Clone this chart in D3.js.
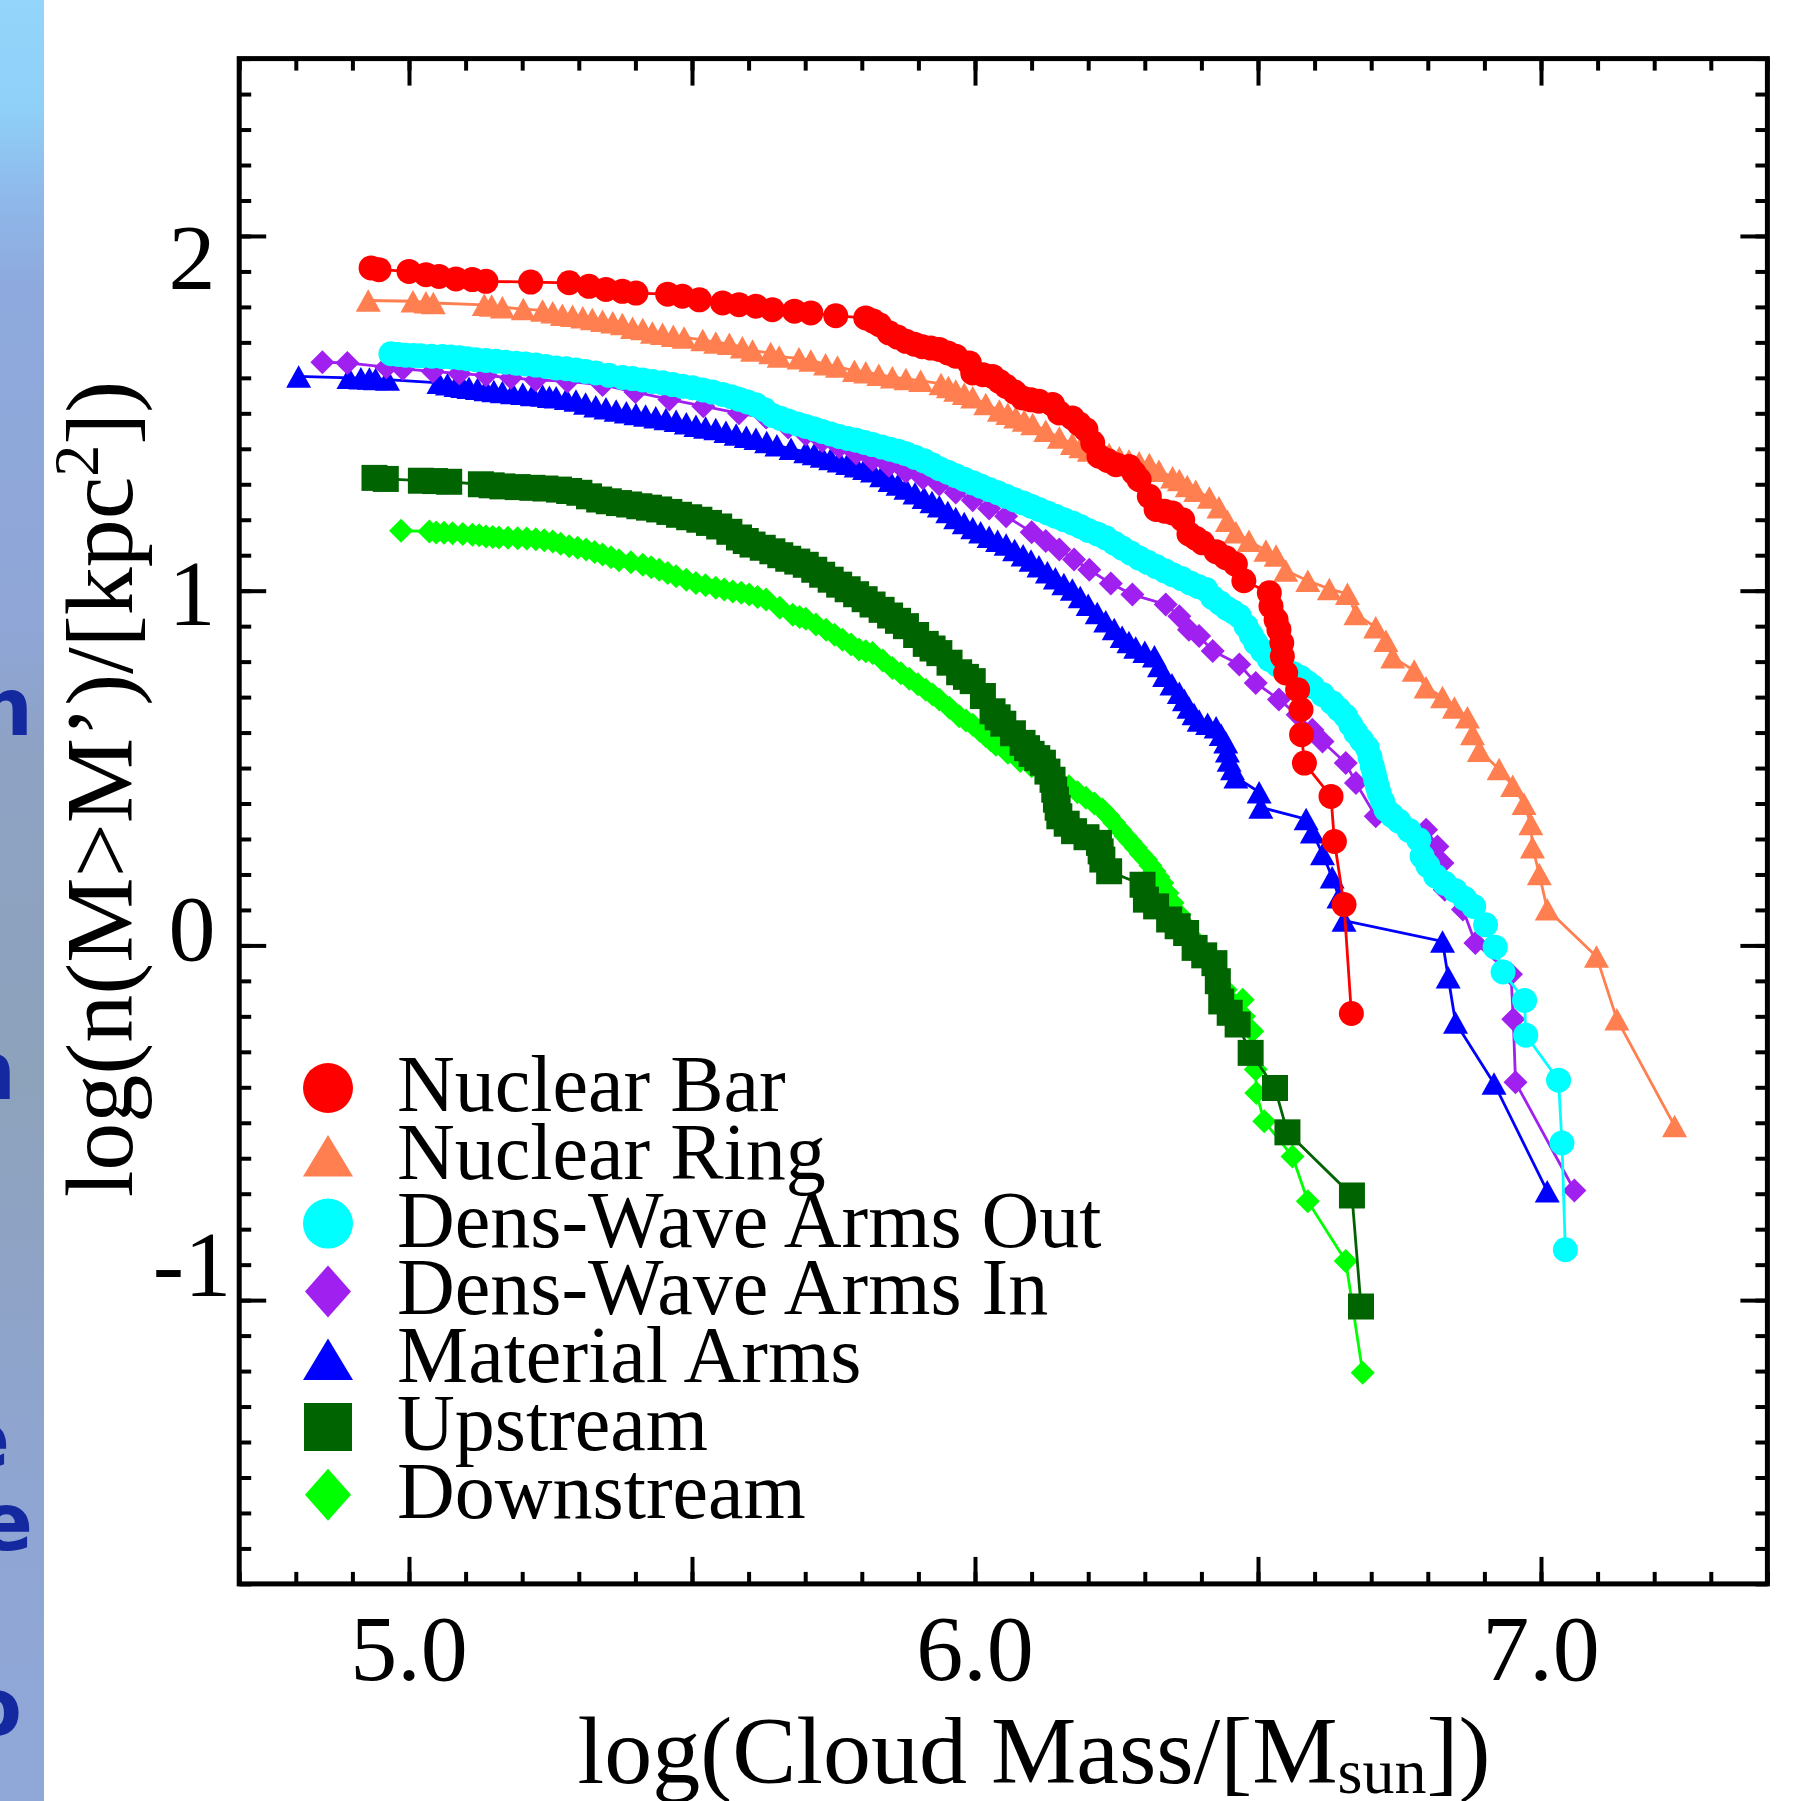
<!DOCTYPE html>
<html>
<head>
<meta charset="utf-8">
<script src="https://cdn.jsdelivr.net/npm/d3@7"></script>
<style>
  html, body { margin: 0; padding: 0; background: #fff; }
  svg { display: block; }
  text.serif { font-family: "Liberation Serif", "Times New Roman", serif; fill: #000; }
  text.strip { font-family: "DejaVu Sans", Verdana, sans-serif; font-weight: bold; fill: #1429a0; }
</style>
</head>
<body>
<svg id="chart" width="1806" height="1801"></svg>
<script>
// cumulative mass spectra, [log M, log n(>M)/kpc^2]
const nuclearBar = [[4.933,1.910],[4.947,1.905],[5.000,1.900],[5.030,1.891],[5.053,1.886],[5.083,1.879],[5.112,1.877],[5.136,1.872],[5.215,1.870],[5.283,1.868],[5.318,1.858],[5.348,1.849],[5.377,1.844],[5.401,1.839],[5.457,1.836],[5.483,1.830],[5.513,1.820],[5.554,1.811],[5.583,1.806],[5.613,1.802],[5.642,1.792],[5.681,1.788],[5.710,1.783],[5.754,1.775],[5.807,1.769],[5.820,1.760],[5.831,1.750],[5.848,1.727],[5.863,1.715],[5.878,1.703],[5.893,1.695],[5.907,1.688],[5.922,1.684],[5.937,1.680],[5.952,1.670],[5.966,1.661],[5.990,1.642],[5.996,1.614],[6.014,1.609],[6.031,1.604],[6.043,1.590],[6.055,1.576],[6.070,1.560],[6.084,1.543],[6.099,1.538],[6.113,1.534],[6.137,1.525],[6.149,1.501],[6.172,1.487],[6.184,1.470],[6.196,1.454],[6.208,1.417],[6.219,1.379],[6.234,1.367],[6.249,1.355],[6.272,1.350],[6.281,1.332],[6.290,1.313],[6.308,1.266],[6.320,1.229],[6.335,1.224],[6.349,1.219],[6.367,1.200],[6.378,1.160],[6.390,1.148],[6.402,1.135],[6.426,1.110],[6.443,1.093],[6.460,1.075],[6.475,1.028],[6.520,0.994],[6.523,0.956],[6.532,0.918],[6.537,0.890],[6.542,0.853],[6.543,0.815],[6.549,0.768],[6.570,0.721],[6.576,0.665],[6.577,0.594],[6.582,0.514],[6.629,0.420],[6.635,0.293],[6.652,0.115],[6.665,-0.192]];
const nuclearRing = [[4.928,1.818],[5.007,1.816],[5.030,1.813],[5.043,1.811],[5.133,1.806],[5.146,1.804],[5.165,1.799],[5.202,1.794],[5.236,1.790],[5.254,1.785],[5.271,1.778],[5.289,1.775],[5.307,1.771],[5.324,1.766],[5.342,1.761],[5.360,1.757],[5.377,1.752],[5.395,1.741],[5.413,1.738],[5.430,1.728],[5.448,1.724],[5.467,1.719],[5.486,1.714],[5.519,1.707],[5.542,1.700],[5.566,1.696],[5.589,1.686],[5.607,1.677],[5.639,1.670],[5.654,1.660],[5.689,1.655],[5.710,1.649],[5.736,1.638],[5.757,1.632],[5.787,1.620],[5.807,1.616],[5.830,1.609],[5.854,1.602],[5.878,1.597],[5.904,1.592],[5.940,1.583],[5.953,1.574],[5.966,1.564],[5.981,1.555],[5.996,1.545],[6.019,1.526],[6.043,1.508],[6.058,1.499],[6.072,1.489],[6.087,1.480],[6.102,1.470],[6.125,1.451],[6.149,1.432],[6.172,1.414],[6.187,1.405],[6.202,1.395],[6.220,1.390],[6.237,1.385],[6.255,1.376],[6.272,1.367],[6.290,1.362],[6.308,1.357],[6.325,1.338],[6.349,1.320],[6.361,1.312],[6.375,1.295],[6.390,1.282],[6.414,1.263],[6.431,1.235],[6.446,1.197],[6.461,1.165],[6.484,1.141],[6.514,1.113],[6.532,1.099],[6.549,1.057],[6.588,1.028],[6.626,1.005],[6.658,0.991],[6.673,0.934],[6.708,0.897],[6.726,0.859],[6.738,0.812],[6.776,0.775],[6.797,0.728],[6.826,0.700],[6.847,0.671],[6.870,0.643],[6.879,0.596],[6.891,0.549],[6.926,0.497],[6.950,0.450],[6.970,0.399],[6.982,0.342],[6.985,0.277],[6.997,0.201],[7.011,0.102],[7.098,-0.031],[7.134,-0.208],[7.236,-0.509]];
const densWaveOut = [[4.968,1.668],[4.981,1.666],[4.994,1.664],[5.008,1.663],[5.021,1.662],[5.040,1.661],[5.059,1.660],[5.074,1.659],[5.089,1.657],[5.103,1.654],[5.118,1.651],[5.136,1.649],[5.154,1.647],[5.171,1.644],[5.189,1.641],[5.206,1.639],[5.224,1.636],[5.242,1.632],[5.260,1.628],[5.278,1.626],[5.295,1.622],[5.312,1.618],[5.330,1.614],[5.353,1.607],[5.377,1.601],[5.395,1.598],[5.413,1.594],[5.430,1.590],[5.448,1.586],[5.466,1.581],[5.483,1.576],[5.501,1.572],[5.519,1.566],[5.536,1.560],[5.554,1.553],[5.569,1.547],[5.583,1.540],[5.598,1.532],[5.613,1.524],[5.628,1.510],[5.642,1.494],[5.656,1.486],[5.670,1.478],[5.686,1.470],[5.701,1.463],[5.716,1.456],[5.730,1.449],[5.745,1.442],[5.760,1.435],[5.775,1.429],[5.790,1.424],[5.805,1.418],[5.819,1.412],[5.835,1.405],[5.850,1.399],[5.864,1.393],[5.878,1.386],[5.894,1.376],[5.910,1.366],[5.924,1.355],[5.937,1.344],[5.952,1.334],[5.966,1.324],[5.981,1.314],[5.996,1.304],[6.010,1.295],[6.025,1.285],[6.040,1.276],[6.055,1.266],[6.070,1.256],[6.085,1.247],[6.099,1.238],[6.113,1.229],[6.128,1.219],[6.142,1.210],[6.157,1.200],[6.172,1.191],[6.186,1.181],[6.200,1.170],[6.216,1.160],[6.231,1.149],[6.246,1.134],[6.260,1.120],[6.275,1.106],[6.290,1.092],[6.305,1.080],[6.320,1.068],[6.335,1.056],[6.349,1.045],[6.365,1.034],[6.380,1.022],[6.394,1.012],[6.408,1.003],[6.420,0.980],[6.433,0.965],[6.445,0.950],[6.456,0.940],[6.467,0.928],[6.479,0.900],[6.488,0.875],[6.496,0.853],[6.508,0.830],[6.520,0.806],[6.535,0.790],[6.549,0.777],[6.562,0.766],[6.575,0.755],[6.586,0.742],[6.596,0.730],[6.614,0.707],[6.631,0.684],[6.643,0.665],[6.655,0.646],[6.664,0.622],[6.673,0.599],[6.683,0.578],[6.693,0.557],[6.698,0.530],[6.702,0.505],[6.705,0.486],[6.708,0.467],[6.711,0.448],[6.714,0.430],[6.720,0.406],[6.726,0.383],[6.737,0.366],[6.749,0.350],[6.767,0.324],[6.784,0.298],[6.790,0.251],[6.800,0.225],[6.814,0.195],[6.830,0.175],[6.848,0.155],[6.865,0.132],[6.881,0.110],[6.902,0.058],[6.919,-0.005],[6.933,-0.075],[6.971,-0.155],[6.973,-0.253],[7.031,-0.380],[7.037,-0.557],[7.043,-0.858]];
const densWaveIn = [[4.847,1.644],[4.891,1.642],[4.960,1.630],[4.989,1.625],[5.042,1.618],[5.089,1.612],[5.136,1.607],[5.180,1.600],[5.224,1.594],[5.280,1.590],[5.342,1.580],[5.400,1.560],[5.460,1.539],[5.520,1.520],[5.583,1.500],[5.631,1.488],[5.670,1.460],[5.701,1.440],[5.730,1.422],[5.760,1.405],[5.790,1.387],[5.819,1.369],[5.848,1.352],[5.878,1.335],[5.908,1.317],[5.937,1.299],[5.966,1.277],[5.996,1.255],[6.025,1.232],[6.055,1.210],[6.100,1.165],[6.125,1.140],[6.149,1.116],[6.175,1.088],[6.202,1.059],[6.240,1.020],[6.278,0.989],[6.337,0.961],[6.361,0.928],[6.378,0.890],[6.396,0.872],[6.420,0.830],[6.467,0.792],[6.496,0.740],[6.537,0.693],[6.570,0.650],[6.596,0.608],[6.614,0.575],[6.655,0.514],[6.673,0.458],[6.708,0.364],[6.797,0.326],[6.817,0.279],[6.826,0.232],[6.830,0.157],[6.862,0.101],[6.884,0.007],[6.947,-0.081],[6.951,-0.208],[6.955,-0.386],[7.059,-0.691]];
const materialArms = [[4.805,1.604],[4.894,1.600],[4.915,1.599],[4.930,1.598],[4.941,1.597],[4.962,1.595],[5.053,1.586],[5.068,1.582],[5.083,1.578],[5.095,1.575],[5.106,1.572],[5.121,1.569],[5.136,1.566],[5.150,1.563],[5.165,1.560],[5.183,1.557],[5.201,1.555],[5.218,1.552],[5.236,1.550],[5.248,1.547],[5.260,1.545],[5.278,1.541],[5.295,1.536],[5.312,1.528],[5.330,1.520],[5.348,1.514],[5.366,1.508],[5.384,1.503],[5.401,1.498],[5.418,1.494],[5.436,1.489],[5.454,1.484],[5.472,1.479],[5.490,1.472],[5.507,1.465],[5.524,1.460],[5.542,1.456],[5.560,1.448],[5.578,1.440],[5.596,1.434],[5.613,1.428],[5.632,1.419],[5.650,1.410],[5.675,1.400],[5.701,1.391],[5.716,1.385],[5.730,1.378],[5.745,1.371],[5.760,1.365],[5.775,1.358],[5.790,1.351],[5.805,1.344],[5.819,1.337],[5.835,1.323],[5.850,1.310],[5.864,1.299],[5.878,1.288],[5.894,1.275],[5.910,1.262],[5.924,1.250],[5.937,1.238],[5.952,1.222],[5.966,1.205],[5.981,1.191],[5.996,1.177],[6.010,1.165],[6.025,1.152],[6.040,1.141],[6.055,1.130],[6.070,1.115],[6.085,1.100],[6.099,1.085],[6.113,1.069],[6.128,1.052],[6.142,1.035],[6.157,1.019],[6.172,1.003],[6.186,0.982],[6.200,0.960],[6.216,0.937],[6.231,0.914],[6.246,0.892],[6.260,0.870],[6.272,0.855],[6.284,0.840],[6.300,0.828],[6.317,0.815],[6.326,0.788],[6.335,0.760],[6.348,0.736],[6.361,0.712],[6.370,0.692],[6.378,0.671],[6.387,0.652],[6.396,0.634],[6.411,0.625],[6.426,0.615],[6.435,0.594],[6.443,0.573],[6.446,0.547],[6.449,0.521],[6.455,0.497],[6.461,0.474],[6.502,0.432],[6.505,0.389],[6.585,0.356],[6.596,0.319],[6.614,0.258],[6.631,0.192],[6.643,0.136],[6.652,0.070],[6.826,0.011],[6.836,-0.090],[6.849,-0.217],[6.917,-0.389],[7.011,-0.693]];
const upstream = [[4.939,1.318],[4.959,1.315],[5.021,1.310],[5.046,1.309],[5.071,1.307],[5.127,1.300],[5.146,1.297],[5.165,1.294],[5.192,1.292],[5.218,1.290],[5.241,1.288],[5.265,1.285],[5.283,1.281],[5.301,1.276],[5.318,1.266],[5.336,1.257],[5.353,1.252],[5.371,1.247],[5.389,1.243],[5.407,1.238],[5.424,1.234],[5.442,1.229],[5.460,1.222],[5.477,1.214],[5.495,1.207],[5.513,1.200],[5.530,1.191],[5.548,1.181],[5.566,1.166],[5.583,1.150],[5.595,1.140],[5.607,1.130],[5.625,1.121],[5.642,1.111],[5.656,1.100],[5.670,1.090],[5.686,1.082],[5.701,1.073],[5.716,1.059],[5.730,1.045],[5.745,1.031],[5.760,1.017],[5.775,1.004],[5.790,0.990],[5.805,0.976],[5.819,0.961],[5.835,0.946],[5.850,0.930],[5.864,0.915],[5.878,0.900],[5.896,0.875],[5.913,0.850],[5.925,0.837],[5.937,0.824],[5.955,0.797],[5.972,0.770],[5.984,0.757],[5.996,0.745],[6.014,0.703],[6.031,0.660],[6.040,0.643],[6.050,0.625],[6.067,0.598],[6.084,0.571],[6.092,0.556],[6.100,0.540],[6.110,0.528],[6.120,0.515],[6.128,0.490],[6.137,0.467],[6.140,0.439],[6.143,0.411],[6.146,0.388],[6.149,0.364],[6.162,0.343],[6.175,0.322],[6.197,0.305],[6.219,0.289],[6.222,0.265],[6.225,0.242],[6.237,0.209],[6.296,0.171],[6.302,0.129],[6.320,0.110],[6.343,0.073],[6.358,0.054],[6.373,0.035],[6.388,-0.007],[6.405,-0.028],[6.423,-0.050],[6.429,-0.101],[6.435,-0.158],[6.450,-0.190],[6.464,-0.223],[6.487,-0.303],[6.530,-0.402],[6.552,-0.527],[6.666,-0.705],[6.682,-1.018]];
const downstream = [[4.986,1.169],[5.036,1.167],[5.048,1.164],[5.062,1.163],[5.077,1.162],[5.095,1.160],[5.112,1.158],[5.124,1.156],[5.136,1.153],[5.148,1.151],[5.159,1.150],[5.175,1.149],[5.192,1.148],[5.208,1.147],[5.224,1.145],[5.239,1.142],[5.254,1.139],[5.268,1.132],[5.283,1.125],[5.298,1.121],[5.313,1.116],[5.328,1.109],[5.342,1.102],[5.357,1.094],[5.371,1.086],[5.392,1.080],[5.413,1.073],[5.428,1.066],[5.442,1.059],[5.457,1.050],[5.472,1.041],[5.490,1.031],[5.507,1.022],[5.524,1.015],[5.542,1.008],[5.557,1.003],[5.572,0.998],[5.587,0.994],[5.601,0.989],[5.616,0.982],[5.631,0.975],[5.655,0.952],[5.678,0.932],[5.690,0.926],[5.701,0.921],[5.719,0.905],[5.737,0.890],[5.752,0.876],[5.766,0.862],[5.781,0.848],[5.795,0.834],[5.807,0.829],[5.819,0.824],[5.837,0.803],[5.854,0.782],[5.869,0.767],[5.884,0.752],[5.899,0.736],[5.913,0.721],[5.925,0.707],[5.937,0.693],[5.955,0.670],[5.972,0.646],[5.984,0.634],[5.996,0.622],[6.008,0.606],[6.019,0.590],[6.028,0.578],[6.037,0.566],[6.058,0.543],[6.080,0.520],[6.100,0.505],[6.120,0.490],[6.143,0.470],[6.166,0.449],[6.181,0.432],[6.196,0.416],[6.211,0.400],[6.225,0.383],[6.236,0.365],[6.246,0.346],[6.256,0.327],[6.266,0.308],[6.275,0.292],[6.284,0.275],[6.293,0.258],[6.302,0.242],[6.310,0.225],[6.317,0.209],[6.324,0.193],[6.331,0.176],[6.340,0.148],[6.349,0.120],[6.361,0.087],[6.373,0.054],[6.385,0.021],[6.396,-0.012],[6.414,-0.045],[6.431,-0.078],[6.443,-0.125],[6.473,-0.153],[6.475,-0.200],[6.490,-0.242],[6.496,-0.350],[6.497,-0.416],[6.511,-0.496],[6.561,-0.595],[6.588,-0.721],[6.655,-0.890],[6.685,-1.205]];

const seriesNames = ["Nuclear Bar", "Nuclear Ring", "Dens-Wave Arms Out", "Dens-Wave Arms In", "Material Arms", "Upstream", "Downstream"];
const seriesData = [nuclearBar, nuclearRing, densWaveOut, densWaveIn, materialArms, upstream, downstream];

const xTickLabels = [5.0, 6.0, 7.0];
const yTickLabels = [2, 1, 0, -1];
const xDomain = [4.7, 7.4];
const yDomain = [-1.8, 2.5];

// styles
const colors = ["#ff0000", "#ff7f50", "#00ffff", "#a020f0", "#0000ff", "#006400", "#00ff00"];
const shapes = ["circle", "triangle", "circle", "diamond", "triangle", "square", "diamond"];
const markSize = { circle: 25, triangle: 25, diamond: 24, square: 26 };

const svg = d3.select("#chart");
const W = +svg.attr("width"), H = +svg.attr("height");
const box = { left: 239.2, right: 1767.4, top: 58.6, bottom: 1583.9 };

const x = d3.scaleLinear().domain(xDomain).range([box.left, box.right]);
const y = d3.scaleLinear().domain(yDomain).range([box.bottom, box.top]);

// custom marker shapes, size = marker width
const symbols = {
	circle: { draw ( p, s ) { p.moveTo( s/2, 0 ); p.arc( 0, 0, s/2, 0, 2*Math.PI ); } },
	square: { draw ( p, s ) { p.rect( -s/2, -s/2, s, s ); } },
	diamond: { draw ( p, s ) { p.moveTo( 0, -s/2 ); p.lineTo( s/2, 0 ); p.lineTo( 0, s/2 ); p.lineTo( -s/2, 0 ); p.closePath(); } },
	triangle: { draw ( p, s ) { let h = s*0.9; p.moveTo( 0, -h/2 ); p.lineTo( s/2, h/2 ); p.lineTo( -s/2, h/2 ); p.closePath(); } }
};
const legendSym = { circle: [50, 50], triangle: [50, 46], diamond: [46, 52], square: [48, 48] };

// slide remnant on the left edge
let grad = svg.append( "defs" ).append( "linearGradient" )
	.attr( "id", "strip" ).attr( "x1", 0 ).attr( "y1", 0 ).attr( "x2", 0 ).attr( "y2", 1 );
[ [0, "#93d5fb"], [0.06, "#8fd0f8"], [0.11, "#8fb8ea"], [0.16, "#8ea9dd"], [0.35, "#8fa6d6"],
  [0.42, "#8ea2c4"], [0.6, "#8da2bb"], [0.7, "#8fa3c6"], [0.85, "#8fa6d4"], [1, "#90a8d8"] ]
	.forEach( s => grad.append( "stop" ).attr( "offset", s[0] ).attr( "stop-color", s[1] ) );
svg.append( "rect" ).attr( "x", 0 ).attr( "y", 0 ).attr( "width", 44 ).attr( "height", H ).attr( "fill", "url(#strip)" );

let stripText = svg.append( "g" ).attr( "text-anchor", "end" );
[ ["n", 33, 735], ["n", 16, 1099], ["e", 10, 1467], ["e", 33, 1550], ["o", 22, 1735] ].forEach( t => {
	stripText.append( "text" ).attr( "class", "strip" )
		.attr( "x", t[1] ).attr( "y", t[2] )
		.style( "font-size", "80px" )
		.text( t[0] );
});

// ticks (inward on all four sides)
const minorX = d3.range( 47, 75 ).map( d => d/10 );
const majorX = [5.0, 5.5, 6.0, 6.5, 7.0];
const minorY = d3.range( -18, 26 ).map( d => d/10 );
const majorY = [-1, 0, 1, 2];

function ticks ( axis, pos, values, len ) {
	let g = svg.append( "g" )
		.attr( "transform", pos )
		.call( axis.tickValues( values ).tickSize( -len ).tickSizeOuter( 0 ).tickFormat( "" ) );
	g.select( ".domain" ).remove();
	g.selectAll( ".tick line" ).attr( "stroke", "#000" ).attr( "stroke-width", 4 );
}
ticks( d3.axisBottom( x ), `translate(0,${box.bottom})`, minorX, 12 );
ticks( d3.axisBottom( x ), `translate(0,${box.bottom})`, majorX, 27 );
ticks( d3.axisTop( x ), `translate(0,${box.top})`, minorX, 12 );
ticks( d3.axisTop( x ), `translate(0,${box.top})`, majorX, 27 );
ticks( d3.axisLeft( y ), `translate(${box.left},0)`, minorY, 12 );
ticks( d3.axisLeft( y ), `translate(${box.left},0)`, majorY, 27 );
ticks( d3.axisRight( y ), `translate(${box.right},0)`, minorY, 12 );
ticks( d3.axisRight( y ), `translate(${box.right},0)`, majorY, 27 );

svg.append( "rect" )
	.attr( "x", box.left ).attr( "y", box.top )
	.attr( "width", box.right - box.left ).attr( "height", box.bottom - box.top )
	.attr( "fill", "none" ).attr( "stroke", "#000" ).attr( "stroke-width", 5 );

// tick labels
svg.append( "g" ).selectAll( "text" )
	.data( xTickLabels ).join( "text" )
	.attr( "class", "serif" )
	.attr( "x", d => x( d ) )
	.attr( "y", box.bottom + 96 )
	.attr( "text-anchor", "middle" )
	.style( "font-size", "94px" )
	.text( d => d.toFixed( 1 ) );

// the labels in the source drift slightly against their ticks
const yLab = d3.scaleLinear().domain( [2, -1] ).range( [y( 2 ) + 21, y( -1 ) - 36.5] );
svg.append( "g" ).selectAll( "text" )
	.data( yTickLabels ).join( "text" )
	.attr( "class", "serif" )
	.attr( "x", 192 )
	.attr( "y", d => yLab( d ) + 32 )
	.attr( "text-anchor", "middle" )
	.style( "font-size", "94px" )
	.text( d => String( d ) );

// axis titles
let xt = svg.append( "text" )
	.attr( "class", "serif" )
	.attr( "x", 1034 ).attr( "y", 1783 )
	.attr( "text-anchor", "middle" )
	.style( "font-size", "96px" );
xt.append( "tspan" ).text( "log(Cloud Mass/[M" );
xt.append( "tspan" ).attr( "dy", 10 ).style( "font-size", "64px" ).text( "sun" );
xt.append( "tspan" ).attr( "dy", -10 ).text( "])" );

let yt = svg.append( "text" )
	.attr( "class", "serif" )
	.attr( "transform", "translate(132,789) rotate(-90)" )
	.attr( "text-anchor", "middle" )
	.style( "font-size", "96px" );
yt.append( "tspan" ).text( "log(n(M>M’)/[kpc" );
yt.append( "tspan" ).attr( "dy", -34 ).style( "font-size", "64px" ).text( "2" );
yt.append( "tspan" ).attr( "dy", 34 ).text( "])" );

// series, drawn last-to-first so the first legend entry sits on top
const line = d3.line().x( d => x( d[0] ) ).y( d => y( d[1] ) );
d3.range( seriesData.length ).reverse().forEach( i => {
	let g = svg.append( "g" ).attr( "class", "series" );
	g.append( "path" )
		.attr( "d", line( seriesData[i] ) )
		.attr( "fill", "none" )
		.attr( "stroke", colors[i] )
		.attr( "stroke-width", 2.8 );
	let sym = d3.symbol().type( symbols[ shapes[i] ] ).size( markSize[ shapes[i] ] );
	g.selectAll( "path.mark" )
		.data( seriesData[i] ).join( "path" )
		.attr( "class", "mark" )
		.attr( "transform", d => `translate(${x( d[0] )},${y( d[1] )})` )
		.attr( "d", sym )
		.attr( "fill", colors[i] );
});

// legend
const legend = svg.append( "g" ).attr( "transform", "translate(0,1111)" );
seriesNames.forEach( ( name, i ) => {
	let row = legend.append( "g" ).attr( "transform", `translate(0,${i*67.8})` );
	let [ w, h ] = legendSym[ shapes[i] ];
	row.append( "path" )
		.attr( "transform", `translate(328,-23) scale(1,${h/w})` )
		.attr( "d", d3.symbol().type( symbols[ shapes[i] ] ).size( w )() )
		.attr( "fill", colors[i] );
	row.append( "text" )
		.attr( "class", "serif" )
		.attr( "x", 397 ).attr( "y", 0 )
		.style( "font-size", "80px" )
		.text( name );
});
</script>
</body>
</html>
